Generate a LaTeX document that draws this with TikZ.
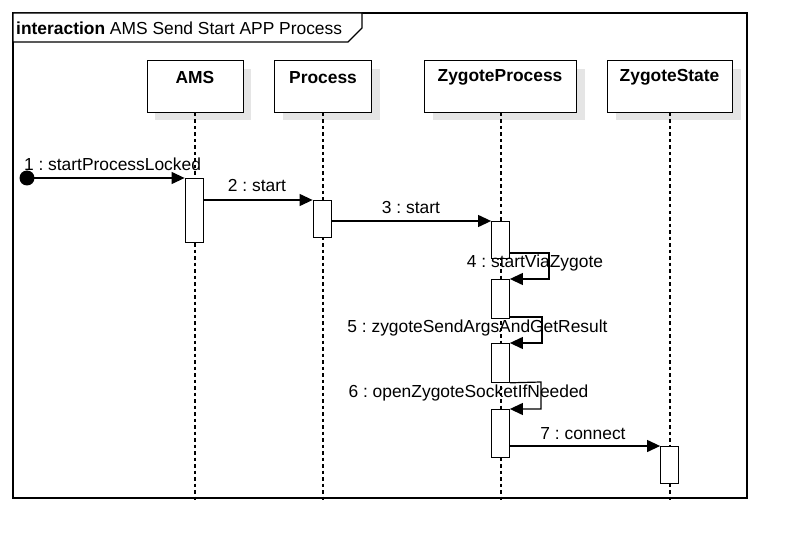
\documentclass[tikz,border=0pt]{standalone}
\usepackage{fontspec}
\setmainfont{Liberation Sans}
\usetikzlibrary{arrows.meta}
\frenchspacing
\begin{document}
\begin{tikzpicture}[x=1pt,y=-1pt,
  lbl/.style={font=\fontsize{17.4}{19}\selectfont, inner sep=0pt},
  hlbl/.style={font=\fontsize{17.4}{19}\selectfont\bfseries, inner sep=0pt},
  head/.style={draw, line width=1pt, fill=white, minimum width=#1, minimum height=52pt, inner sep=0pt},
  shad/.style={fill=black!10, draw=none},
  life/.style={line width=1.2pt, dash pattern=on 3.5pt off 3pt},
  act/.style={draw, line width=0.8pt, fill=white, minimum width=18pt, inner sep=0pt, anchor=north},
  msg/.style={line width=1.2pt, -{Triangle[length=13pt,width=12pt]}},
  frm/.style={line width=1.2pt}]
\useasboundingbox (0,0) rectangle (800,556);
% frame
\draw[frm] (13,13) rectangle (747,498);
\draw[frm, fill=white] (13,13) -- (362,13) -- (362,28) -- (348,42) -- (13,42) -- cycle;
\node[lbl, anchor=west] (title) at (16,28) {\textbf{interaction} AMS Send Start APP Process};
% shadows
\fill[shad] (155,69) rectangle (251,120);
\fill[shad] (283,69) rectangle (380,120);
\fill[shad] (433,69) rectangle (585,120);
\fill[shad] (616,69) rectangle (741,120);
% lifeline heads
\node[head=96pt, anchor=north] (ams) at (195,60) {};
\node[head=97pt, anchor=north] (proc) at (323,60) {};
\node[head=152pt, anchor=north] (zp) at (500,60) {};
\node[head=125pt, anchor=north] (zs) at (669.5,60) {};
\node[hlbl] (amsl) at (195,77.5) {AMS};
\node[hlbl] (procl) at (323,77.5) {Process};
\node[hlbl] (zpl) at (500,77.5) {ZygoteProcess};
\node[hlbl] (zsl) at (669.5,77.5) {ZygoteState};
% lifelines
\coordinate (amsE) at (195,503);
\coordinate (procE) at (323,503);
\coordinate (zpE) at (501,503);
\coordinate (zsE) at (670,503);
\draw[life] (ams.south) -- (amsE);
\draw[life] (proc.south) -- (procE);
\draw[life] (zp.south -| zpE) -- (zpE);
\draw[life] (zs.south -| zsE) -- (zsE);
% activations
\node[act, minimum height=64pt] (a1) at (194,178) {};
\node[act, minimum height=37pt] (p1) at (322,200) {};
\node[act, minimum height=37pt] (z1) at (500.5,221) {};
\node[act, minimum height=39pt] (z2) at (500.5,279) {};
\node[act, minimum height=39pt] (z3) at (500.5,343) {};
\node[act, minimum height=48pt] (z4) at (500.5,409) {};
\node[act, minimum height=37pt] (s1) at (669.5,446) {};
% found message
\node[circle, fill=black, minimum size=15pt, inner sep=0pt] (found) at (27,178) {};
\draw[msg] (found.center) -- (a1.north west);
\node[lbl] (m1) at (112.5,164) {1 : startProcessLocked};
% 2
\draw[msg] (a1.east |- p1.north) -- (p1.north west);
\node[lbl] (m2) at (257,186) {2 : start};
% 3
\draw[msg] (p1.east |- z1.north) -- (z1.north west);
\node[lbl] (m3) at (411,208) {3 : start};
% 4 self
\draw[msg] (z1.east |- 0,253) -- (549,253) |- (z2.north east);
\node[lbl] (m4) at (535,263) {4 : startViaZygote};
% 5 self
\draw[msg] (z2.east |- 0,317) -- (542,317) |- (z3.north east);
\node[lbl] (m5) at (477.5,328) {5 : zygoteSendArgsAndGetResult};
% 6 self
\draw[msg] (z3.south east) -- (541,382) |- (z4.north east);
\node[lbl] (m6) at (468.5,393) {6 : openZygoteSocketIfNeeded};
% 7
\draw[msg] (z4.east |- s1.north) -- (s1.north west);
\node[lbl] (m7) at (583,434) {7 : connect};
\end{tikzpicture}
\end{document}
